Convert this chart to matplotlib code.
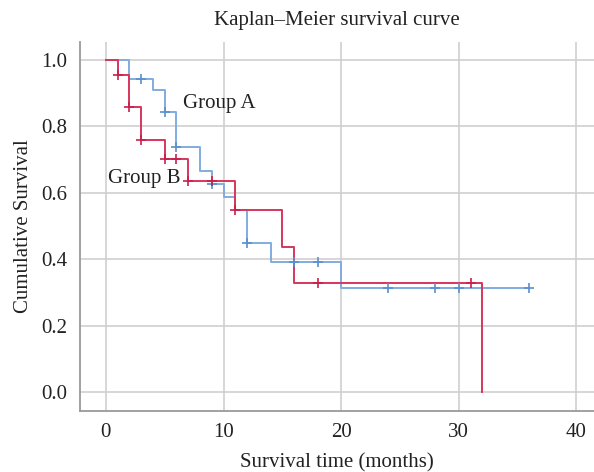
import matplotlib
matplotlib.use("Agg")
import matplotlib.pyplot as plt
import numpy as np

# Group A (blue)
a_times = [0, 2, 4, 5, 6, 8, 9, 10, 11, 12, 14, 20, 36]
a_surv = [1.0, 0.942, 0.909, 0.844, 0.738, 0.665, 0.625, 0.587, 0.547, 0.448, 0.393, 0.312, 0.312]
a_cens_t = [3, 5, 6, 9, 12, 16, 18, 24, 28, 30, 36]
a_cens_s = [0.942, 0.844, 0.738, 0.625, 0.448, 0.393, 0.393, 0.312, 0.312, 0.312, 0.312]

# Group B (red)
b_times = [0, 1, 2, 3, 5, 7, 11, 15, 16, 32]
b_surv = [1.0, 0.955, 0.859, 0.758, 0.703, 0.637, 0.547, 0.436, 0.327, 0.0]
b_cens_t = [1, 2, 3, 5, 6, 7, 9, 11, 18, 31]
b_cens_s = [0.955, 0.859, 0.758, 0.703, 0.703, 0.637, 0.637, 0.547, 0.327, 0.327]

x_ticks = [0, 10, 20, 30, 40]
y_ticks = [0.0, 0.2, 0.4, 0.6, 0.8, 1.0]

blue = "#80acdf"
red = "#d6365e"

plt.rcParams['font.family'] = ['Liberation Serif', 'DejaVu Serif']
FS = 15

fig = plt.figure(figsize=(5.94, 4.72), dpi=100)
ax = fig.add_axes([0.1347, 0.1299, 0.8653, 0.7811])

ax.step(a_times, a_surv, where='post', color=blue, lw=1.4, zorder=3)
ax.step(b_times, b_surv, where='post', color=red, lw=1.4, zorder=4)
ax.plot(a_cens_t, a_cens_s, ls='none', marker='+', ms=7, mew=1.2, color="#5a8fcf", zorder=5)
ax.plot(b_cens_t, b_cens_s, ls='none', marker='+', ms=7, mew=1.2, color="#c8204a", zorder=6)

ax.text(6.57, 0.855, "Group A", fontsize=FS, ha='left', va='baseline', color="#222222")
ax.text(0.2, 0.629, "Group B", fontsize=FS, ha='left', va='baseline', color="#222222")

ax.set_xlim(-2.2, 41.5)
ax.set_ylim(-0.056, 1.054)
ax.set_xticks(x_ticks)
ax.set_yticks(y_ticks)
ax.set_yticklabels([f"{v:.1f}" for v in y_ticks])
ax.tick_params(length=0, labelsize=FS, colors="#222222", pad=9)
ax.grid(True, color="#cfcfcf", lw=1.2)
ax.set_axisbelow(True)
for s in ['top', 'right']:
    ax.spines[s].set_visible(False)
for s in ['left', 'bottom']:
    ax.spines[s].set_color("#9a9a9a")
    ax.spines[s].set_linewidth(1.3)

ax.set_title("Kaplan\u2013Meier survival curve", fontsize=FS, color="#222222", pad=12)
ax.set_xlabel("Survival time (months)", fontsize=FS, color="#222222", labelpad=8)
ax.set_ylabel("Cumulative Survival", fontsize=FS, color="#222222", labelpad=6)

fig.savefig("out.png", dpi=100)
